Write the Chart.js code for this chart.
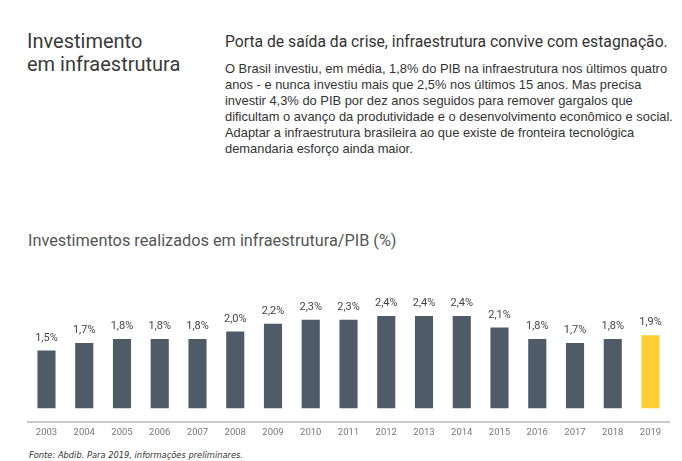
<!DOCTYPE html>
<html>
<head>
<meta charset="utf-8">
<script src="https://cdn.jsdelivr.net/npm/chart.js@4.4.1/dist/chart.umd.min.js"></script>
<style>
  body { margin: 0; width: 682px; height: 461px; background: #fff; position: relative; overflow: hidden; font-family: "Roboto", sans-serif; }
  .head { position: absolute; left: 27px; top: 30px; font-size: 20px; line-height: 23px; color: #3a3a3a; }
  .sub { position: absolute; left: 225px; top: 32px; font-size: 15.7px; color: #333; white-space: nowrap; }
  .txt { position: absolute; left: 225px; top: 61px; font-family: "Liberation Sans Narrow", sans-serif; font-size: 12.9px; line-height: 16px; color: #333; white-space: nowrap; }
  .ctitle { position: absolute; left: 28px; top: 231px; font-size: 16.3px; color: #555; white-space: nowrap; }
  .foot { position: absolute; left: 29px; top: 450px; font-size: 8.3px; font-style: italic; color: #333; font-family: "DejaVu Sans", sans-serif; }
  #box { position: absolute; left: 0; top: 282.5px; width: 682px; height: 160px; }
</style>
</head>
<body>
<div class="head">Investimento<br>em infraestrutura</div>
<div class="sub">Porta de saída da crise, infraestrutura convive com estagnação.</div>
<div class="txt">O Brasil investiu, em média, 1,8% do PIB na infraestrutura nos últimos quatro<br>anos - e nunca investiu mais que 2,5% nos últimos 15 anos. Mas precisa<br>investir 4,3% do PIB por dez anos seguidos para remover gargalos que<br>dificultam o avanço da produtividade e o desenvolvimento econômico e social.<br>Adaptar a infraestrutura brasileira ao que existe de fronteira tecnológica<br>demandaria esforço ainda maior.</div>
<div class="ctitle">Investimentos realizados em infraestrutura/PIB (%)</div>
<div id="box"><canvas id="chart"></canvas></div>
<div class="foot">Fonte: Abdib. Para 2019, informações preliminares.</div>

<script>
const years = ["2003", "2004", "2005", "2006", "2007", "2008", "2009", "2010", "2011", "2012", "2013", "2014", "2015", "2016", "2017", "2018", "2019"];
const values = [1.5, 1.7, 1.8, 1.8, 1.8, 2.0, 2.2, 2.3, 2.3, 2.4, 2.4, 2.4, 2.1, 1.8, 1.7, 1.8, 1.9];
const barColors = years.map(y => y === "2019" ? "#fdcf33" : "#4f5c68");

// value labels above each bar, e.g. "1,5%"
const valueLabels = {
    id: "valueLabels",
    afterDatasetsDraw(chart) {
        const ctx = chart.ctx;
        const meta = chart.getDatasetMeta(0);
        ctx.save();
        ctx.font = "11px Roboto";
        ctx.fillStyle = "#444";
        ctx.textAlign = "center";
        ctx.textBaseline = "bottom";
        meta.data.forEach((bar, i) => {
            ctx.fillText(values[i].toFixed(1).replace(".", ",") + "%", bar.x, bar.y - 7);
        });
        ctx.restore();
    }
};

function drawChart() {
    new Chart(document.getElementById("chart"), {
        type: "bar",
        data: {
            labels: years,
            datasets: [{
                data: values,
                backgroundColor: barColors,
                barPercentage: 0.96,
                categoryPercentage: 0.5
            }]
        },
        options: {
            responsive: true,
            maintainAspectRatio: false,
            animation: false,
            layout: { padding: { left: 27.6, right: 12.6, top: 0, bottom: 0 } },
            plugins: { legend: { display: false }, tooltip: { enabled: false } },
            scales: {
                y: { display: false, min: -0.35, max: 3.26 },
                x: {
                    grid: { display: false, drawTicks: false },
                    border: { color: "#c9c9c9", width: 2 },
                    ticks: { color: "#777", font: { family: "Roboto", size: 9.5 }, padding: 5 }
                }
            }
        },
        plugins: [valueLabels]
    });
}

document.fonts.load("11px Roboto").then(drawChart, drawChart);
</script>
</body>
</html>
